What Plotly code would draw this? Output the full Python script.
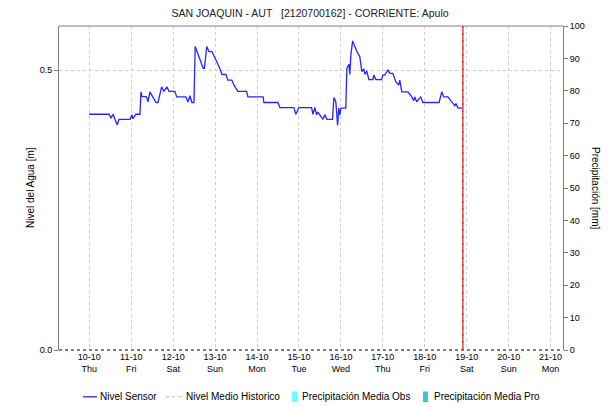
import pandas as pd
import plotly.graph_objects as go

# Estación y serie de nivel del sensor (horas desde 2024-10-10 00:00, nivel en m)
titulo = "SAN JOAQUIN - AUT&nbsp;&nbsp;&nbsp;[2120700162] - CORRIENTE: Apulo"
inicio = "2024-10-10 00:00"

horas = [
    0.0, 11.3, 12.4, 13.6, 16.0, 17.0, 23.3, 24.4, 25.0, 26.7,
    29.0, 29.6, 30.2, 32.8, 33.6, 34.7, 38.2, 39.3, 41.4, 42.7,
    44.4, 45.6, 49.0, 50.0, 55.3, 56.5, 57.6, 58.7, 59.9, 60.6,
    65.2, 65.9, 67.2, 68.5, 70.2, 71.9, 73.0, 74.7, 75.9, 78.2,
    79.3, 81.6, 82.8, 85.1, 90.0, 90.8, 99.5, 99.9, 107.9, 109.1,
    117.1, 118.2, 119.9, 127.2, 128.0, 129.1, 130.1, 130.8, 133.7, 134.8,
    136.0, 139.2, 140.0, 141.1, 142.1, 142.8, 143.4, 144.0, 146.8, 147.4,
    148.6, 149.1, 149.7, 150.7, 152.0, 153.1, 154.8, 156.0, 157.1, 157.7,
    158.8, 160.0, 162.3, 162.8, 164.0, 167.3, 168.0, 169.1, 170.9, 172.0,
    173.7, 175.4, 177.1, 177.7, 178.8, 182.3, 184.6, 185.7, 186.3, 187.4,
    188.6, 189.7, 190.9, 200.2, 201.7, 202.9, 205.2, 207.5, 209.2, 209.8,
    211.0, 213.8,
]
nivel = [
    0.421, 0.421, 0.414, 0.421, 0.402, 0.412, 0.412, 0.420, 0.413, 0.421,
    0.421, 0.461, 0.453, 0.452, 0.443, 0.461, 0.442, 0.442, 0.470, 0.462,
    0.470, 0.462, 0.462, 0.452, 0.452, 0.443, 0.454, 0.442, 0.442, 0.542,
    0.503, 0.503, 0.542, 0.533, 0.533, 0.522, 0.512, 0.503, 0.492, 0.492,
    0.482, 0.482, 0.473, 0.462, 0.462, 0.452, 0.452, 0.442, 0.442, 0.433,
    0.433, 0.421, 0.433, 0.433, 0.421, 0.433, 0.420, 0.425, 0.412, 0.420,
    0.412, 0.412, 0.451, 0.443, 0.401, 0.432, 0.420, 0.432, 0.432, 0.503,
    0.510, 0.492, 0.527, 0.552, 0.542, 0.533, 0.524, 0.497, 0.502, 0.492,
    0.498, 0.483, 0.483, 0.491, 0.483, 0.483, 0.491, 0.491, 0.500, 0.494,
    0.494, 0.479, 0.473, 0.482, 0.461, 0.461, 0.452, 0.445, 0.452, 0.443,
    0.448, 0.452, 0.442, 0.442, 0.461, 0.452, 0.452, 0.443, 0.436, 0.440,
    0.432, 0.432,
]

# Precipitación (sin registros en el periodo)
precip_obs_t, precip_obs = [], []
precip_pro_t, precip_pro = [], []

# Eje temporal
dias = ["2024-10-%02d" % d for d in range(10, 22)]
etiquetas_dias = ["10-10<br>Thu", "11-10<br>Fri", "12-10<br>Sat", "13-10<br>Sun",
                  "14-10<br>Mon", "15-10<br>Tue", "16-10<br>Wed", "17-10<br>Thu",
                  "18-10<br>Fri", "19-10<br>Sat", "20-10<br>Sun", "21-10<br>Mon"]
rango_x = ["2024-10-09 06:40", "2024-10-21 07:06"]
ahora = "2024-10-18 21:48"

nombres_leyenda = ["Nivel Sensor", "Nivel Medio Historico",
                   "Precipitación Media Obs", "Precipitación Media Pro"]

tiempos = pd.Timestamp(inicio) + pd.to_timedelta(horas, unit="h")

W, H = 610, 407
ML, MR, MT, MB = 59, 47, 26, 57
PW, PH = W - ML - MR, H - MT - MB


def px(x):
    return (x - ML) / PW


def py(y):
    return (H - MB - y) / PH


FONT = "Liberation Sans, Arial, sans-serif"
AZUL = "#2626ff"
CIAN = "#66ffff"
TURQ = "#40c8c8"

fig = go.Figure()
fig.add_trace(go.Scatter(x=tiempos, y=nivel, mode="lines", name=nombres_leyenda[0],
                         line=dict(color=AZUL, width=1.3), showlegend=False))
fig.add_trace(go.Bar(x=precip_obs_t, y=precip_obs, name=nombres_leyenda[2],
                     marker_color=CIAN, yaxis="y2", showlegend=False))
fig.add_trace(go.Bar(x=precip_pro_t, y=precip_pro, name=nombres_leyenda[3],
                     marker_color=TURQ, yaxis="y2", showlegend=False))

shapes = [
    # borde superior
    dict(type="line", xref="paper", yref="paper", x0=0, x1=1, y0=1, y1=1,
         line=dict(color="#808080", width=1)),
    # eje inferior punteado
    dict(type="line", xref="paper", yref="paper", x0=0, x1=1, y0=0, y1=0,
         line=dict(color="#000000", width=1, dash="dot")),
    # marca de la hora actual
    dict(type="line", xref="x", yref="paper", x0=ahora, x1=ahora, y0=0, y1=1,
         line=dict(color="#ea5050", width=1.6)),
    dict(type="line", xref="x", yref="paper", x0=ahora, x1=ahora, y0=0, y1=1,
         line=dict(color="#b02020", width=0.8, dash="2px,5px")),
]

# Leyenda inferior
ly = 396.8
shapes += [
    dict(type="line", xref="paper", yref="paper", x0=px(83), x1=px(97), y0=py(ly), y1=py(ly),
         line=dict(color=AZUL, width=1.3)),
    dict(type="line", xref="paper", yref="paper", x0=px(166), x1=px(182), y0=py(ly), y1=py(ly),
         line=dict(color="#b8b8b8", width=1, dash="3px,3px")),
    dict(type="rect", xref="paper", yref="paper", x0=px(292), x1=px(297), y0=py(391.5), y1=py(402),
         line=dict(width=0), fillcolor=CIAN),
    dict(type="rect", xref="paper", yref="paper", x0=px(423), x1=px(428), y0=py(391.5), y1=py(402),
         line=dict(width=0), fillcolor=TURQ),
]
annotations = []
for xt, txt in zip([98, 184, 299.5, 431.5], nombres_leyenda):
    annotations.append(dict(x=px(xt), y=py(ly), xref="paper", yref="paper", text=txt,
                            showarrow=False, xanchor="left", yanchor="middle",
                            font=dict(size=10, color="#000000", family=FONT)))

annotations.append(dict(x=px(30), y=py(188), xref="paper", yref="paper",
                        text="Nivel del Agua [m]", textangle=-90, showarrow=False,
                        xanchor="center", yanchor="middle",
                        font=dict(size=10, color="#000000", family=FONT)))
annotations.append(dict(x=px(596), y=py(188), xref="paper", yref="paper",
                        text="Precipitación [mm]", textangle=90, showarrow=False,
                        xanchor="center", yanchor="middle",
                        font=dict(size=10, color="#000000", family=FONT)))

fig.update_layout(
    width=W, height=H,
    margin=dict(l=ML, r=MR, t=MT, b=MB, pad=0),
    paper_bgcolor="white", plot_bgcolor="white",
    font=dict(family=FONT, size=9, color="#000000"),
    title=dict(text=titulo, x=px(310), xref="paper", xanchor="center",
               y=1 - 13 / H, yanchor="middle",
               font=dict(size=10.5, color="#222222", family=FONT)),
    showlegend=False,
    bargap=0,
    xaxis=dict(type="date", range=rango_x, tickvals=dias, ticktext=etiquetas_dias,
               showgrid=True, gridcolor="#cccccc", griddash="dot", gridwidth=1,
               showline=False, zeroline=False, ticks="", ticklen=0,
               tickfont=dict(size=9, color="#000000")),
    yaxis=dict(range=[0, 0.5786], tickvals=[0, 0.5], ticktext=["0.0", "0.5"],
               showgrid=True, gridcolor="#cccccc", griddash="dot", gridwidth=1,
               showline=True, linecolor="#808080", linewidth=1, zeroline=False,
               ticks="outside", ticklen=4, tickcolor="#808080",
               tickfont=dict(size=9, color="#000000")),
    yaxis2=dict(range=[0, 100], dtick=10, tick0=0, overlaying="y", side="right",
                showgrid=False, showline=True, linecolor="#808080", linewidth=1,
                zeroline=False, ticks="outside", ticklen=4, tickcolor="#808080",
                tickfont=dict(size=9, color="#000000")),
    shapes=shapes,
    annotations=annotations,
)

fig.write_html("out.html")
